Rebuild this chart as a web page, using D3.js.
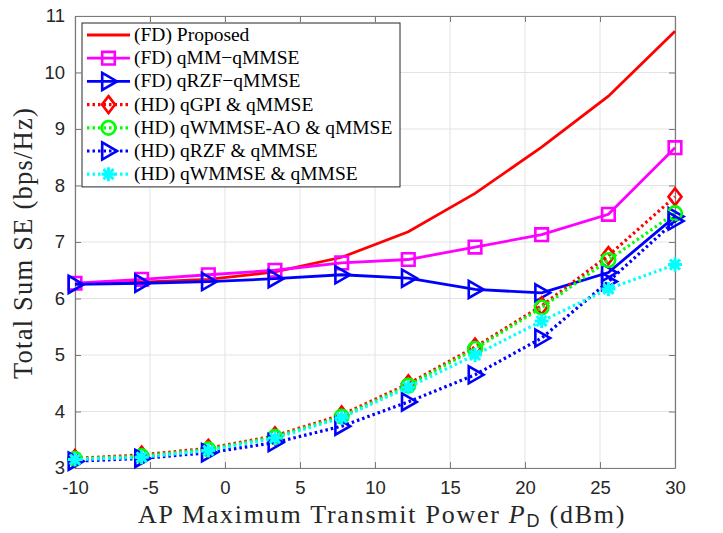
<!DOCTYPE html>
<html lang="en">
<head>
<meta charset="UTF-8">
<title>Total Sum SE vs AP Transmit Power</title>
<script src="https://d3js.org/d3.v7.min.js"></script>
<style>
  body { margin: 0; background: #fff; }
  svg { display: block; }
  .serif { font-family: "Liberation Serif", "DejaVu Serif", "Times New Roman", Times, serif; }
  .sans { font-family: "Liberation Sans", Arial, Helvetica, sans-serif; }
</style>
</head>
<body>
<svg id="chart" width="723" height="533"></svg>
<script>
// power points (dBm)
const powerDbm = [-10, -5.56, -1.11, 3.33, 7.78, 12.22, 16.67, 21.11, 25.56, 30];

const fdProposed = [6.26, 6.29, 6.34, 6.47, 6.73, 7.18, 7.86, 8.68, 9.58, 10.73];
const fdQmm      = [6.27, 6.34, 6.42, 6.50, 6.63, 6.69, 6.91, 7.13, 7.49, 8.67];
const fdQrzf     = [6.25, 6.27, 6.30, 6.35, 6.42, 6.36, 6.16, 6.10, 6.46, 7.45];
const hdQgpi     = [3.17, 3.23, 3.35, 3.57, 3.94, 4.49, 5.14, 5.87, 6.76, 7.80];
const hdQwmmseAo = [3.16, 3.21, 3.33, 3.55, 3.91, 4.46, 5.11, 5.84, 6.68, 7.51];
const hdQrzf     = [3.12, 3.17, 3.27, 3.45, 3.74, 4.17, 4.65, 5.30, 6.30, 7.37];
const hdQwmmse   = [3.15, 3.19, 3.31, 3.53, 3.89, 4.43, 5.00, 5.60, 6.17, 6.60];

const xTicks = [-10, -5, 0, 5, 10, 15, 20, 25, 30];
const yTicks = [3, 4, 5, 6, 7, 8, 9, 10, 11];

const series = [
  { name: "(FD) Proposed",            values: fdProposed, color: "#ff0000", dash: null, marker: null },
  { name: "(FD) qMM\u2212qMMSE",      values: fdQmm,      color: "#ff00ff", dash: null, marker: "square" },
  { name: "(FD) qRZF\u2212qMMSE",     values: fdQrzf,     color: "#0000ff", dash: null, marker: "triangle" },
  { name: "(HD) qGPI & qMMSE",        values: hdQgpi,     color: "#ff0000", dash: "2.5,3", marker: "diamond" },
  { name: "(HD) qWMMSE-AO & qMMSE",   values: hdQwmmseAo, color: "#00ff00", dash: "2.5,3", marker: "circle" },
  { name: "(HD) qRZF & qMMSE",        values: hdQrzf,     color: "#0000ff", dash: "2.5,3", marker: "triangle" },
  { name: "(HD) qWMMSE & qMMSE",      values: hdQwmmse,   color: "#00ffff", dash: "2.5,3", marker: "asterisk" }
];

const margin = { top: 16, right: 48, bottom: 65, left: 75 };
const width = 723, height = 533;

const svg = d3.select("#chart");

const x = d3.scaleLinear().domain([-10, 30]).range([margin.left, width - margin.right]);
const y = d3.scaleLinear().domain([3, 11]).range([height - margin.bottom, margin.top]);

const plotL = x.range()[0], plotR = x.range()[1];
const plotT = y.range()[1], plotB = y.range()[0];

// grid
const grid = svg.append("g").attr("stroke", "#e3e3e3").attr("stroke-width", 1);
xTicks.forEach(t => grid.append("line")
  .attr("x1", x(t)).attr("x2", x(t)).attr("y1", plotT).attr("y2", plotB));
yTicks.forEach(t => grid.append("line")
  .attr("x1", plotL).attr("x2", plotR).attr("y1", y(t)).attr("y2", y(t)));

// axes (plain hyphen for negatives, like the original)
const fmt = d => String(d);
const xAxis = svg.append("g")
  .attr("transform", `translate(0,${plotB})`)
  .call(d3.axisBottom(x).tickValues(xTicks).tickFormat(fmt).tickSizeInner(-6).tickSizeOuter(0).tickPadding(13));
const yAxis = svg.append("g")
  .attr("transform", `translate(${plotL},0)`)
  .call(d3.axisLeft(y).tickValues(yTicks).tickFormat(fmt).tickSizeInner(-6).tickSizeOuter(0).tickPadding(10));
const xTop = svg.append("g")
  .attr("transform", `translate(0,${plotT})`)
  .call(d3.axisTop(x).tickValues(xTicks).tickSizeInner(-6).tickSizeOuter(0).tickFormat(""));
const yRight = svg.append("g")
  .attr("transform", `translate(${plotR},0)`)
  .call(d3.axisRight(y).tickValues(yTicks).tickSizeInner(-6).tickSizeOuter(0).tickFormat(""));

[xAxis, yAxis, xTop, yRight].forEach(g => {
  g.attr("font-family", null).attr("font-size", null).attr("class", "sans");
  g.select(".domain").attr("stroke", "#7a7a7a").attr("stroke-width", 1.2);
  g.selectAll(".tick line").attr("stroke", "#7a7a7a").attr("stroke-width", 1);
  g.selectAll("text").attr("fill", "#262626").style("font-size", "18.5px");
});

// lines
const lineGen = d3.line().x((d, i) => x(powerDbm[i])).y(d => y(d));

const symbolPath = {
  square: s => `M${-s},${-s}H${s}V${s}H${-s}Z`,
  triangle: s => `M${-s * 0.85},${-s * 1.15}L${s * 1.15},0L${-s * 0.85},${s * 1.15}Z`,
  diamond: s => `M0,${-s * 1.3}L${s},0L0,${s * 1.3}L${-s},0Z`,
  circle: s => `M${s},0A${s},${s} 0 1,1 ${-s},0A${s},${s} 0 1,1 ${s},0Z`,
  asterisk: s => {
    let p = `M0,${-s}V${s}M${-s},0H${s}`;
    const k = s * 0.72;
    p += `M${-k},${-k}L${k},${k}M${-k},${k}L${k},${-k}`;
    return p;
  }
};
const markerSize = { square: 6.3, triangle: 7.4, diamond: 6.5, circle: 6.8, asterisk: 7 };

function drawMarker(g, type, color, cx, cy) {
  g.append("path")
    .attr("d", symbolPath[type](markerSize[type]))
    .attr("transform", `translate(${cx},${cy})`)
    .attr("fill", "none")
    .attr("stroke", color)
    .attr("stroke-width", type === "asterisk" ? 3 : 2.6);
}

const plot = svg.append("g");
series.forEach(s => {
  plot.append("path")
    .datum(s.values)
    .attr("d", lineGen)
    .attr("fill", "none")
    .attr("stroke", s.color)
    .attr("stroke-width", s.dash ? 3.2 : 2.8)
    .attr("stroke-dasharray", s.dash);
  if (s.marker) {
    s.values.forEach((v, i) => drawMarker(plot, s.marker, s.color, x(powerDbm[i]), y(v)));
  }
});

// legend
const legX = 82, legY = 23, legW = 318, rowH = 23.2;
const legend = svg.append("g");
legend.append("rect")
  .attr("x", legX).attr("y", legY)
  .attr("width", legW).attr("height", rowH * series.length + 1.5)
  .attr("fill", "#fff").attr("stroke", "#262626").attr("stroke-width", 1);

const legTexts = [];
series.forEach((s, i) => {
  const cy = legY + 12 + i * rowH;
  legend.append("line")
    .attr("x1", legX + 5).attr("x2", legX + 48)
    .attr("y1", cy).attr("y2", cy)
    .attr("stroke", s.color)
    .attr("stroke-width", s.dash ? 3.2 : 2.8)
    .attr("stroke-dasharray", s.dash);
  if (s.marker) drawMarker(legend, s.marker, s.color, legX + 26.5, cy);
  legTexts.push(legend.append("text")
    .attr("class", "serif")
    .attr("x", legX + 52).attr("y", cy + 6)
    .style("font-size", "17.4px")
    .attr("fill", "#000")
    .text(s.name));
});

// size the legend font so the longest entry spans about as wide as in the original
const longest = d3.max(legTexts, t => t.node().getComputedTextLength());
const legSize = Math.min(19.5, 17.4 * 259 / longest);
legTexts.forEach(t => t.style("font-size", legSize + "px"));

// axis labels
const xLabel = svg.append("text")
  .attr("class", "serif")
  .attr("x", 382).attr("y", 523)
  .attr("text-anchor", "middle")
  .style("font-size", "26px")
  .attr("fill", "#262626");
xLabel.append("tspan").text("AP Maximum Transmit Power ");
xLabel.append("tspan").style("font-style", "italic").text("P");
xLabel.append("tspan").attr("class", "sans").attr("dy", 4).style("font-size", "18px").text("D");
xLabel.append("tspan").attr("dy", -4).text(" (dBm)");

const yLabel = svg.append("text")
  .attr("class", "serif")
  .attr("transform", `translate(32,${(plotT + plotB) / 2 + 1}) rotate(-90)`)
  .attr("text-anchor", "middle")
  .style("font-size", "26.5px")
  .attr("fill", "#262626")
  .text("Total Sum SE (bps/Hz)");

// widen letter spacing toward the original's wider typeface
function spreadTo(sel, target, nChars) {
  const len = sel.node().getComputedTextLength();
  const ls = Math.max(0, Math.min(2, (target - len) / nChars));
  sel.style("letter-spacing", ls + "px");
}
spreadTo(xLabel, 490, 35);
spreadTo(yLabel, 272, 21);
</script>
</body>
</html>
